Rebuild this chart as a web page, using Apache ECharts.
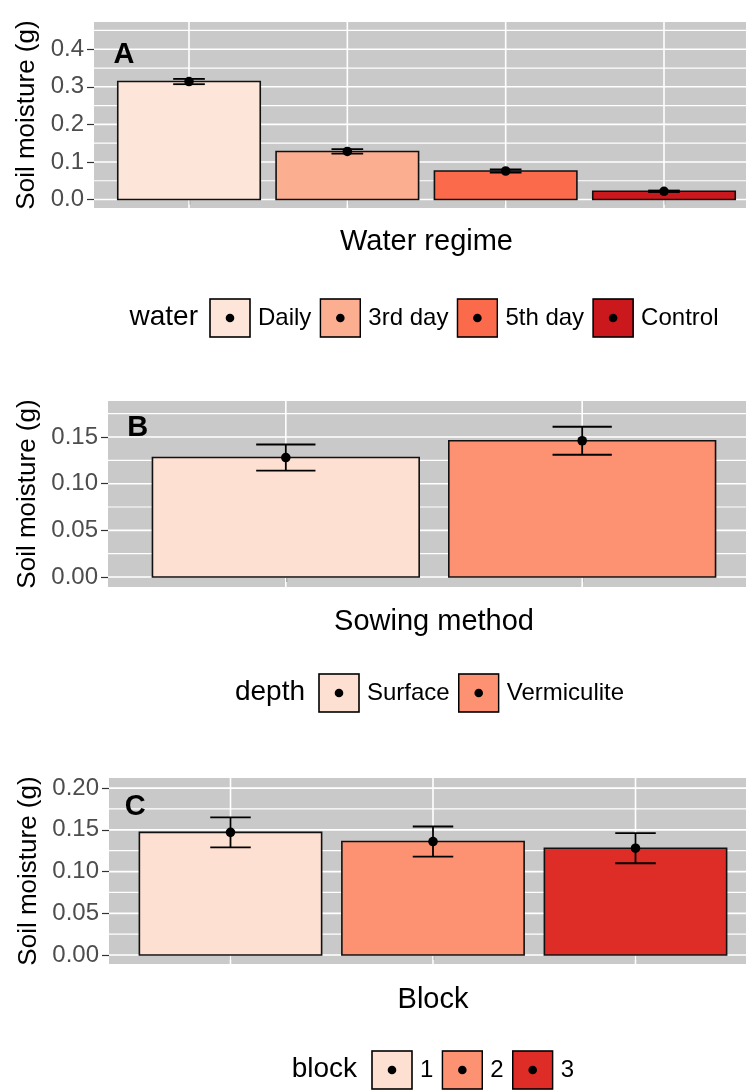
<!DOCTYPE html>
<html>
<head>
<meta charset="utf-8">
<script src="https://cdn.jsdelivr.net/npm/echarts@6/dist/echarts.min.js"></script>
<style>
  html, body { margin: 0; padding: 0; background: #ffffff; }
  #chart { width: 746px; height: 1092px; }
</style>
</head>
<body>
<div id="chart"></div>
<script>
// ---- data: soil moisture means and standard errors (g) ----
const waterCats = ['Daily', '3rd day', '5th day', 'Control'];
const waterMean = [0.314, 0.128, 0.076, 0.022];
const waterSe   = [0.007, 0.006, 0.004, 0.002];

const depthCats = ['Surface', 'Vermiculite'];
const depthMean = [0.128, 0.146];
const depthSe   = [0.014, 0.015];

const blockCats = ['1', '2', '3'];
const blockMean = [0.147, 0.136, 0.128];
const blockSe   = [0.018, 0.018, 0.018];

// ---- tick labels ----
const waterTicks = [0, 0.1, 0.2, 0.3, 0.4];
const depthTicks = [0, 0.05, 0.10, 0.15];
const blockTicks = [0, 0.05, 0.10, 0.15, 0.20];

// ---- text ----
const panelTags    = ['A', 'B', 'C'];
const xTitles      = ['Water regime', 'Sowing method', 'Block'];
const legendTitles = ['water', 'depth', 'block'];
const yTitle       = 'Soil moisture (g)';

// ---- fill colours (Brewer "Reds") ----
const waterColors = ['#FEE5D9', '#FCAE91', '#FB6A4A', '#CB181D'];
const depthColors = ['#FEE0D2', '#FC9272'];
const blockColors = ['#FEE0D2', '#FC9272', '#DE2D26'];

// ---- layout of the three panels ----
const FONT = '"Liberation Sans", Arial, Helvetica, sans-serif';
const layout = [
  { grid: { left: 94,  top: 22,  width: 665, height: 186 }, yMin: -0.0225, yMax: 0.4725, digits: 1,
    tagAt: [0.59, 0.385], nameGap: 51, xNameGap: 19, legendLeft: 209, legendTop: 298, legendTitleRight: 548 },
  { grid: { left: 108, top: 401, width: 652, height: 186 }, yMin: -0.0107, yMax: 0.1886, digits: 2,
    tagAt: [0.50, 0.160], nameGap: 65, xNameGap: 20, legendLeft: 318, legendTop: 673, legendTitleRight: 441 },
  { grid: { left: 109, top: 778, width: 648, height: 186 }, yMin: -0.0107, yMax: 0.2121, digits: 2,
    tagAt: [0.53, 0.177], nameGap: 66, xNameGap: 21, legendLeft: 371, legendTop: 1050, legendTitleRight: 389 }
];

const panels = [
  { cats: waterCats, mean: waterMean, se: waterSe, colors: waterColors, ticks: waterTicks },
  { cats: depthCats, mean: depthMean, se: depthSe, colors: depthColors, ticks: depthTicks },
  { cats: blockCats, mean: blockMean, se: blockSe, colors: blockColors, ticks: blockTicks }
];

const PANEL_BG = '#C9C9C9';
const BAR_HALF = 0.45;   // half of bar width, in category units
const CAP_HALF = 0.1;    // half of error-bar cap width

// legend key: coloured box with a black point, as an inline SVG image
function keyIcon(color) {
  const svg = "<svg xmlns='http://www.w3.org/2000/svg' width='42' height='40'>" +
    "<rect x='1' y='1' width='40' height='38' fill='" + color + "' stroke='#000' stroke-width='1.6'/>" +
    "<circle cx='21' cy='20' r='4.3' fill='#000'/></svg>";
  return 'image://data:image/svg+xml;charset=utf-8,' + encodeURIComponent(svg);
}

// white panel grid lines: kind 0 = major horizontal, 1 = minor horizontal, 2 = vertical
function renderGridLine(params, api) {
  const cs = params.coordSys;
  const kind = api.value(2);
  if (kind === 2) {
    const x = api.coord([api.value(0), 0])[0];
    return { type: 'line', silent: true,
      shape: { x1: x, y1: cs.y, x2: x, y2: cs.y + cs.height },
      style: { stroke: '#ffffff', lineWidth: 1.6 } };
  }
  const y = api.coord([1, api.value(1)])[1];
  return { type: 'line', silent: true,
    shape: { x1: cs.x, y1: y, x2: cs.x + cs.width, y2: y },
    style: { stroke: '#ffffff', lineWidth: kind === 0 ? 1.6 : 1.2 } };
}

// bar + error bar + mean point for one category
function renderBar(params, api) {
  const x = api.value(0), m = api.value(1), se = api.value(2);
  const topLeft = api.coord([x - BAR_HALF, m]);
  const botRight = api.coord([x + BAR_HALF, 0]);
  const hi = api.coord([x, m + se]);
  const lo = api.coord([x, m - se]);
  const capL = api.coord([x - CAP_HALF, m])[0];
  const capR = api.coord([x + CAP_HALF, m])[0];
  const pt = api.coord([x, m]);
  return {
    type: 'group',
    children: [
      { type: 'rect',
        shape: { x: topLeft[0], y: topLeft[1], width: botRight[0] - topLeft[0], height: botRight[1] - topLeft[1] },
        style: { fill: api.visual('color'), stroke: '#111111', lineWidth: 1.6 } },
      { type: 'line', shape: { x1: hi[0], y1: hi[1], x2: lo[0], y2: lo[1] },
        style: { stroke: '#000', lineWidth: 1.8 } },
      { type: 'line', shape: { x1: capL, y1: hi[1], x2: capR, y2: hi[1] },
        style: { stroke: '#000', lineWidth: 1.8 } },
      { type: 'line', shape: { x1: capL, y1: lo[1], x2: capR, y2: lo[1] },
        style: { stroke: '#000', lineWidth: 1.8 } },
      { type: 'circle', shape: { cx: pt[0], cy: pt[1], r: 4.8 }, style: { fill: '#000' } }
    ]
  };
}

// panel letter
function renderTag(params, api) {
  const p = api.coord([api.value(0), api.value(1)]);
  return { type: 'text', silent: true,
    style: { x: p[0], y: p[1], text: panelTags[api.value(2)],
      align: 'center', verticalAlign: 'middle',
      font: 'bold 29px ' + FONT, fill: '#000' } };
}

const grids = [], xAxes = [], yAxes = [], series = [], legends = [], titles = [];

panels.forEach((p, i) => {
  const L = layout[i];
  const n = p.cats.length;
  const step = p.ticks[1] - p.ticks[0];

  grids.push(Object.assign({ show: true, backgroundColor: PANEL_BG, borderWidth: 0,
    containLabel: false, outerBoundsMode: 'none' }, L.grid));

  const catPos = p.cats.map((c, j) => j + 1);
  xAxes.push({
    type: 'value', gridIndex: i, min: 0.4, max: n + 0.6,
    name: xTitles[i], nameLocation: 'middle', nameGap: L.xNameGap,
    nameTextStyle: { fontFamily: FONT, fontSize: 29, color: '#000' },
    axisLine: { show: false },
    axisTick: { show: true, customValues: catPos, length: 5, lineStyle: { color: '#333', width: 1.2 } },
    axisLabel: { show: false },
    splitLine: { show: false }
  });

  yAxes.push({
    type: 'value', gridIndex: i, min: L.yMin, max: L.yMax,
    name: yTitle, nameLocation: 'middle', nameGap: L.nameGap, nameRotate: 90,
    nameTextStyle: { fontFamily: FONT, fontSize: 26, color: '#000' },
    axisLine: { show: false },
    axisTick: { show: true, customValues: p.ticks, length: 7, lineStyle: { color: '#333', width: 1.2 } },
    axisLabel: { show: true, customValues: p.ticks, margin: 10,
      fontFamily: FONT, fontSize: 24, color: '#4D4D4D',
      formatter: v => Number(v).toFixed(L.digits) },
    splitLine: { show: false }
  });

  // panel grid lines
  const lines = [];
  p.ticks.forEach(t => {
    lines.push([1, t, 0]);
    if (t + step / 2 < L.yMax) lines.push([1, t + step / 2, 1]);
  });
  catPos.forEach(x => lines.push([x, 0, 2]));
  series.push({
    type: 'custom', name: 'grid' + i, xAxisIndex: i, yAxisIndex: i, silent: true, z: 1,
    renderItem: renderGridLine, data: lines, encode: { x: 0, y: 1 }
  });

  // bars, one series per category so each gets a legend key
  p.cats.forEach((c, j) => {
    series.push({
      type: 'custom', name: c, xAxisIndex: i, yAxisIndex: i, z: 2,
      itemStyle: { color: p.colors[j] },
      renderItem: renderBar,
      encode: { x: 0, y: 1 },
      data: [[j + 1, p.mean[j], p.se[j]]]
    });
  });

  series.push({
    type: 'custom', name: 'tag' + i, xAxisIndex: i, yAxisIndex: i, silent: true, z: 3,
    renderItem: renderTag, encode: { x: 0, y: 1 },
    data: [[L.tagAt[0], L.tagAt[1], i]]
  });

  legends.push({
    left: L.legendLeft, top: L.legendTop, orient: 'horizontal', padding: 0,
    itemWidth: 42, itemHeight: 40, itemGap: 8, selectedMode: false,
    textStyle: { fontFamily: FONT, fontSize: 24, color: '#000', padding: [0, 0, 0, 2] },
    data: p.cats.map((c, j) => ({ name: c, icon: keyIcon(p.colors[j]) }))
  });

  titles.push({
    text: legendTitles[i], right: L.legendTitleRight, top: L.legendTop + 5, padding: 0,
    textStyle: { fontFamily: FONT, fontSize: 28, fontWeight: 'normal', color: '#000' }
  });
});

const chart = echarts.init(document.getElementById('chart'), null, { renderer: 'canvas' });
chart.setOption({
  animation: false,
  backgroundColor: '#ffffff',
  title: titles,
  legend: legends,
  grid: grids,
  xAxis: xAxes,
  yAxis: yAxes,
  series: series
});
</script>
</body>
</html>
